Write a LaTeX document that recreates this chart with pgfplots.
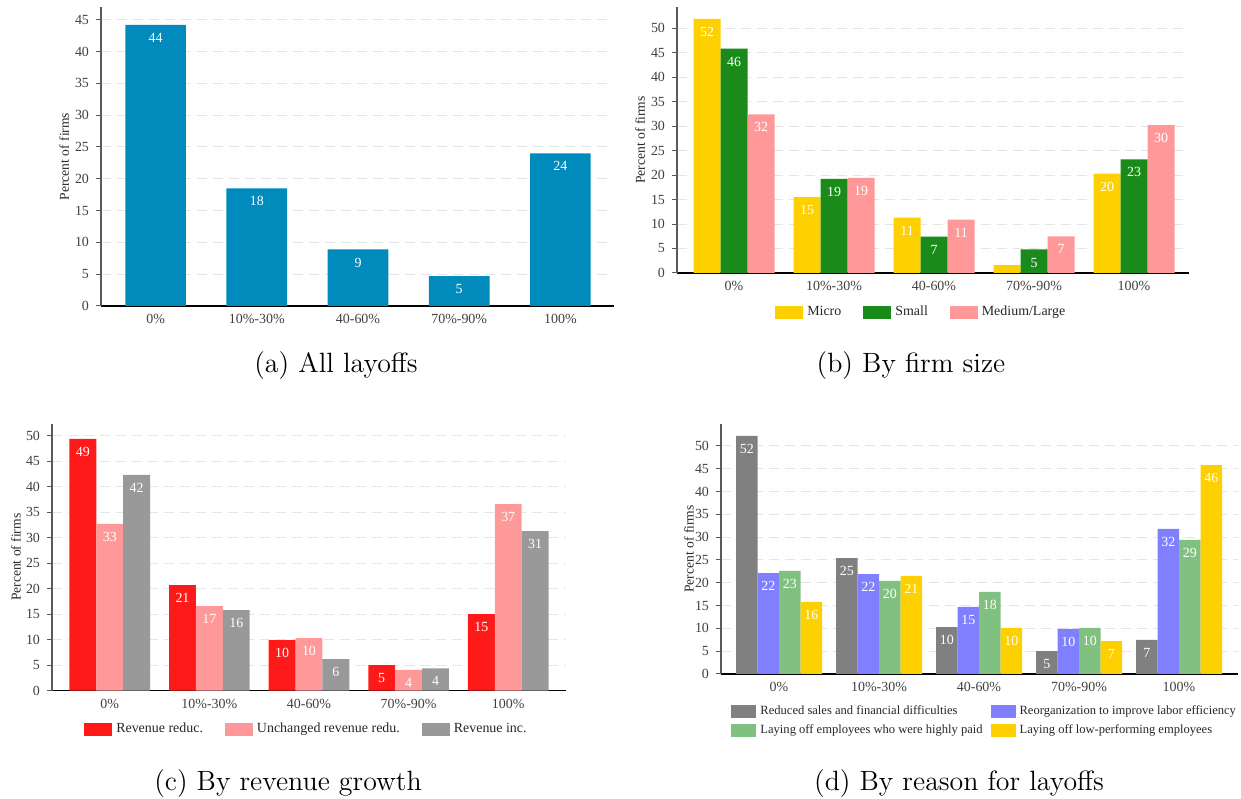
\documentclass[border=0pt]{standalone}
\usepackage{fontspec}
\usepackage{pgfplots}
\pgfplotsset{compat=1.18}
\newfontfamily\chartfont{Liberation Serif}
\definecolor{cA}{RGB}{0,139,188}
\definecolor{cYel}{RGB}{255,208,0}
\definecolor{cGrn}{RGB}{26,138,26}
\definecolor{cPink}{RGB}{255,153,153}
\definecolor{cRed}{RGB}{255,26,26}
\definecolor{cGry}{RGB}{153,153,153}
\definecolor{cDGry}{RGB}{128,128,128}
\definecolor{cBlue}{RGB}{128,128,255}
\definecolor{cLGrn}{RGB}{128,192,128}
\pgfplotsset{
  panel/.style={
    scale only axis,
    axis x line*=bottom, axis y line*=left,
    x axis line style={black, line width=0.6bp},
    y axis line style={black!65, line width=0.6bp},
    ymin=0, enlargelimits=false,
    xtick={0,1,2,3,4},
    xticklabels={0\%,10\%-30\%,40-60\%,70\%-90\%,100\%},
    xtick style={draw=none},
    ytick style={black!65, line width=0.5bp},
    tick align=outside, major tick length=2.5bp,
    ymajorgrids,
    major grid style={black!10, line width=0.5bp, dash pattern=on 5bp off 3bp},
    /pgf/number format/assume math mode=true,
    tick label style={font=\chartfont\fontsize{7}{8}\selectfont, text=black!75},
    xticklabel style={yshift=2bp},
    ylabel={Percent of firms},
    label style={font=\chartfont\fontsize{6.8}{8}\selectfont, text=black!85},
    ybar=0pt,
    nodes near coords,
    point meta=explicit symbolic,
    every node near coord/.append style={font=\chartfont\fontsize{7}{8}\selectfont, text=white, anchor=north, inner sep=0pt, yshift=-4bp},
    legend image code/.code={\fill[##1] (0bp,-3.25bp) rectangle (14bp,3.25bp);},
    legend cell align=left,
    legend style={draw=none, fill=none, font=\chartfont\fontsize{7}{8}\selectfont, text=black!85, /tikz/every even column/.append style={column sep=9bp}},
  },
}
\begin{document}
\begin{tikzpicture}
\useasboundingbox (0,0) rectangle (620.5bp,399.5bp);
% (a)
\begin{axis}[panel, at={(50.5bp,246.5bp)}, anchor=south west, width=256.5bp, height=149.5bp,
  xmin=-0.54, xmax=4.53, ymax=47, ytick={0,5,...,45}, bar width=0.6,
  ylabel style={at={(axis description cs:-0.072,0.5)}, anchor=center}]
\addplot[fill=cA, draw=none, bar shift=0] coordinates {(0,44.2)[44] (1,18.5)[18] (2,8.9)[9] (3,4.7)[5] (4,24.0)[24]};
\end{axis}
% (b)
\begin{axis}[panel, at={(338.5bp,263bp)}, anchor=south west, width=256bp, height=133bp,
  xmin=-0.57, xmax=4.55, ymax=54.3, ytick={0,5,...,50}, bar width=0.27,
  ylabel style={at={(axis description cs:-0.072,0.5)}, anchor=center},
  legend columns=3, legend style={at={(0.479,-0.147)}, anchor=center}]
\addplot[fill=cYel, draw=none, bar shift=-0.27] coordinates {(0,51.9)[52] (1,15.5)[15] (2,11.3)[11] (3,1.6)[{}] (4,20.3)[20]};
\addplot[fill=cGrn, draw=none, bar shift=0] coordinates {(0,45.8)[46] (1,19.2)[19] (2,7.4)[7] (3,4.8)[5] (4,23.2)[23]};
\addplot[fill=cPink, draw=none, bar shift=0.27] coordinates {(0,32.4)[32] (1,19.4)[19] (2,10.9)[11] (3,7.5)[7] (4,30.2)[30]};
\legend{Micro,Small,Medium/Large}
\end{axis}
% (c)
\begin{axis}[panel, at={(26bp,54.15bp)}, anchor=south west, width=257bp, height=133.35bp,
  xmin=-0.58, xmax=4.58, ymax=52.3, ytick={0,5,...,50}, bar width=0.27,
  ylabel style={at={(axis description cs:-0.070,0.5)}, anchor=center},
  legend columns=3, legend style={at={(0.497,-0.144)}, anchor=center}]
\addplot[fill=cRed, draw=none, bar shift=-0.27] coordinates {(0,49.4)[49] (1,20.7)[21] (2,9.9)[10] (3,5.0)[5] (4,15.0)[15]};
\addplot[fill=cPink, draw=none, bar shift=0] coordinates {(0,32.7)[33] (1,16.6)[17] (2,10.3)[10] (3,4.1)[4] (4,36.6)[37]};
\addplot[fill=cGry, draw=none, bar shift=0.27] coordinates {(0,42.3)[42] (1,15.8)[16] (2,6.2)[6] (3,4.4)[4] (4,31.3)[31]};
\legend{Revenue reduc.,Unchanged revenue redu.,Revenue inc.}
\end{axis}
% (d)
\begin{axis}[panel, at={(360.5bp,62.5bp)}, anchor=south west, width=258.5bp, height=125bp,
  xmin=-0.58, xmax=4.59, ymax=54.8, ytick={0,5,...,50}, bar width=0.215,
  ylabel style={at={(axis description cs:-0.062,0.5)}, anchor=center},
  legend image code/.code={\fill[#1] (0bp,-3.25bp) rectangle (12.5bp,3.25bp);},
  legend columns=2, legend style={at={(0.512,-0.188)}, anchor=center, font=\chartfont\fontsize{6.3}{7}\selectfont,
    /tikz/every even column/.append style={column sep=2bp}}]
\addplot[fill=cDGry, draw=none, bar shift=-0.3225] coordinates {(0,52.2)[52] (1,25.4)[25] (2,10.3)[10] (3,5.0)[5] (4,7.5)[7]};
\addplot[fill=cBlue, draw=none, bar shift=-0.1075] coordinates {(0,22.1)[22] (1,21.9)[22] (2,14.7)[15] (3,9.9)[10] (4,31.8)[32]};
\addplot[fill=cLGrn, draw=none, bar shift=0.1075] coordinates {(0,22.6)[23] (1,20.4)[20] (2,18.0)[18] (3,10.1)[10] (4,29.4)[29]};
\addplot[fill=cYel, draw=none, bar shift=0.3225] coordinates {(0,15.8)[16] (1,21.5)[21] (2,10.1)[10] (3,7.2)[7] (4,45.8)[46]};
\legend{Reduced sales and financial difficulties,Reorganization to improve labor efficiency,Laying off employees who were highly paid,Laying off low-performing employees}
\end{axis}
\node[anchor=base, font=\fontsize{14}{16}\selectfont] at (168bp,213bp) {(a) All layoffs};
\node[anchor=base, font=\fontsize{14}{16}\selectfont] at (455.5bp,213bp) {(b) By firm size};
\node[anchor=base, font=\fontsize{14}{16}\selectfont] at (144bp,4.5bp) {(c) By revenue growth};
\node[anchor=base, font=\fontsize{14}{16}\selectfont] at (479.5bp,4.5bp) {(d) By reason for layoffs};
\end{tikzpicture}
\end{document}
